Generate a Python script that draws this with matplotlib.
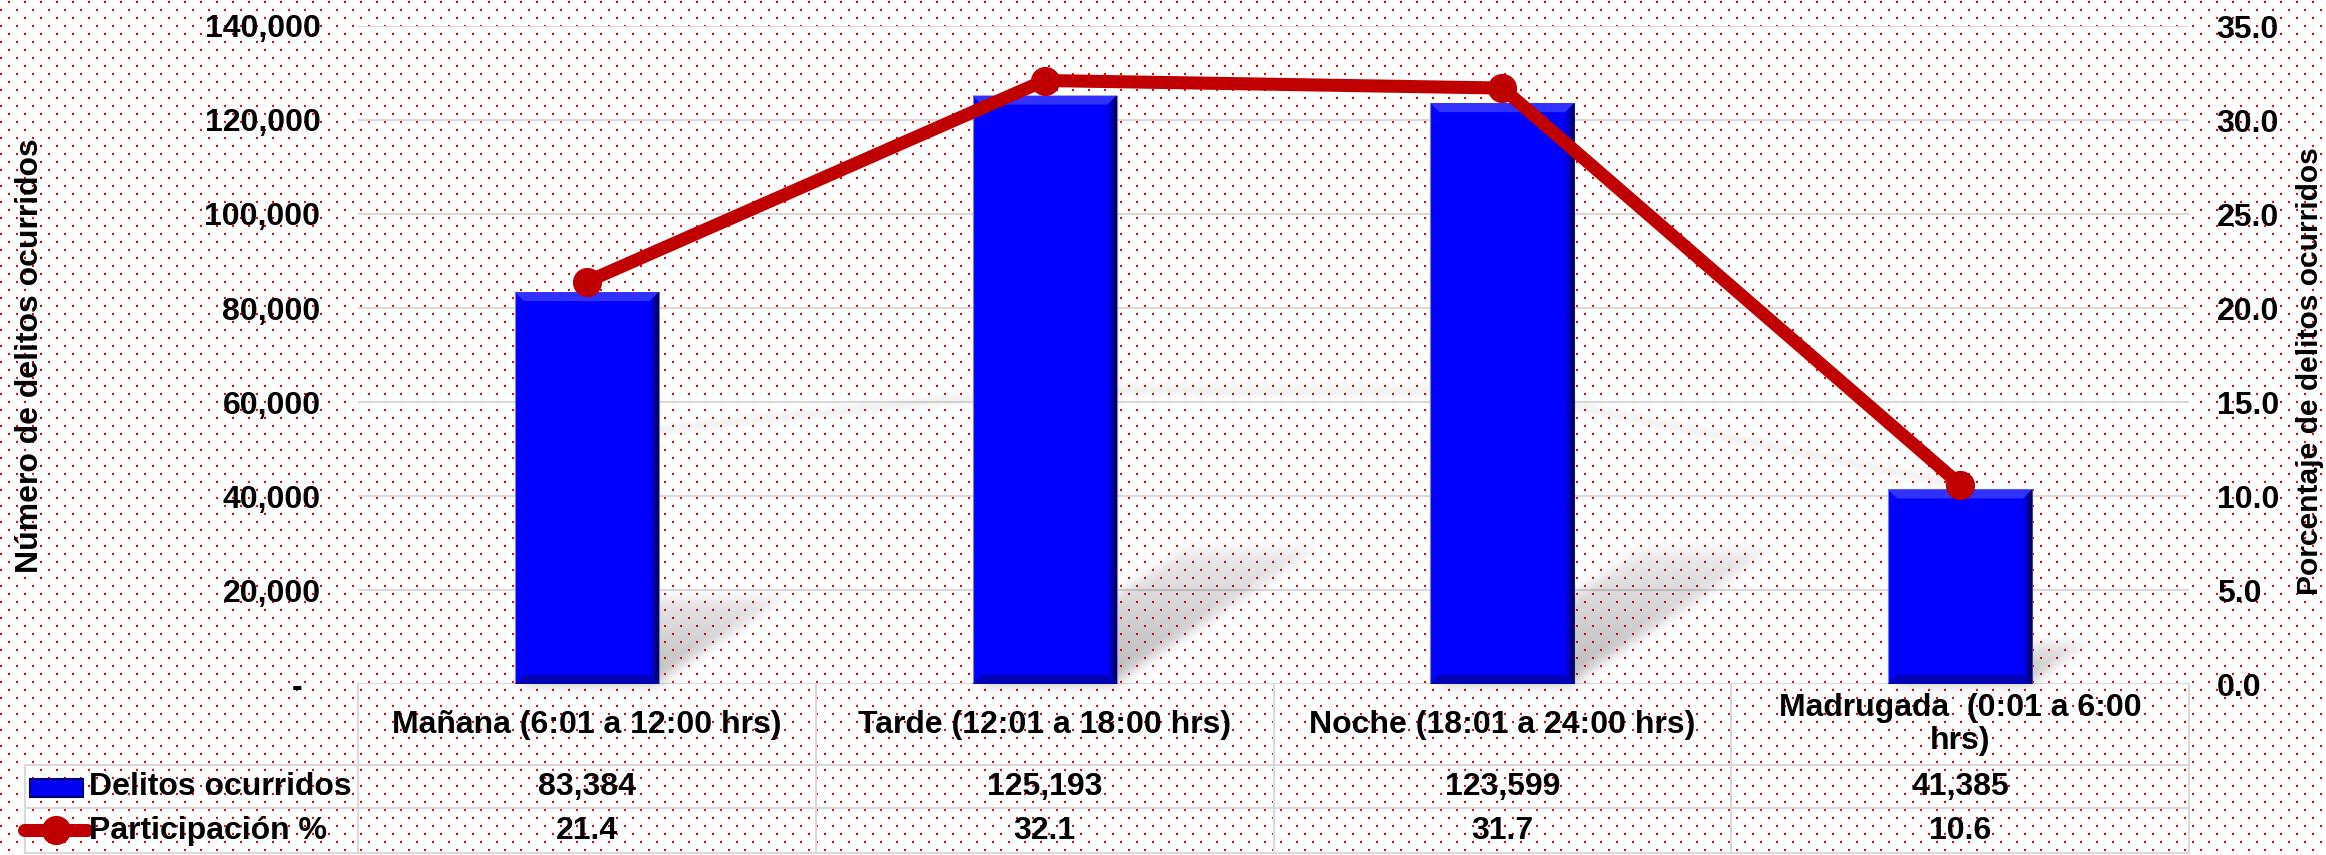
import numpy as np
import matplotlib
matplotlib.use("Agg")
import matplotlib.pyplot as plt
from matplotlib.patches import Polygon, Rectangle
from matplotlib.collections import PolyCollection
from matplotlib.lines import Line2D
from matplotlib.ticker import FuncFormatter, MultipleLocator
from matplotlib.transforms import blended_transform_factory

plt.rcParams['font.family'] = ['Liberation Sans', 'DejaVu Sans']
plt.rcParams['font.weight'] = 'bold'

# data
categorias = ["Mañana (6:01 a 12:00 hrs)", "Tarde (12:01 a 18:00 hrs)",
              "Noche (18:01 a 24:00 hrs)", "Madrugada  (0:01 a 6:00\nhrs)"]
delitos = [83384, 125193, 123599, 41385]
participacion = [21.4, 32.1, 31.7, 10.6]

W, H = 2326, 855
BLUE = '#0000FF'
RED = '#C00000'
GRID = '#D9D9D9'
FS = 23


class Blur:
    # gaussian blur used as agg filter for the soft shadows
    def __init__(self, sigma):
        self.sigma = sigma

    def __call__(self, im, dpi):
        pad = int(3 * self.sigma)
        src = np.pad(im, [(pad, pad), (pad, pad), (0, 0)])
        k = np.exp(-0.5 * (np.arange(-pad, pad + 1) / self.sigma) ** 2)
        k /= k.sum()
        tmp = np.zeros_like(src)
        for i, w in enumerate(k):
            tmp += w * np.roll(src, i - pad, axis=0)
        out = np.zeros_like(src)
        for i, w in enumerate(k):
            out += w * np.roll(tmp, i - pad, axis=1)
        return out, -pad, -pad


fig = plt.figure(figsize=(W / 100, H / 100), dpi=100, facecolor='white')

# dotted red background
bg = np.ones((H, W, 4))
for r in range(0, H, 8):
    off = 8 if (r // 8) % 2 == 0 else 0
    for d in (0, 1):
        bg[r + 1:r + 3, off + d::16, 1:3] = 0
fig.figimage(bg, xo=0, yo=0, zorder=-5)

# axes placement (pixels)
L, R, T, B = 358, 2189, 26, 684
ax = fig.add_axes([L / W, 1 - B / H, (R - L) / W, (B - T) / H])
ax.set_facecolor('none')
ax2 = ax.twinx()
ax2.set_facecolor('none')

x = np.arange(len(delitos))
ymax = 140000
ax.set_xlim(-0.5, 3.5)
ax.set_ylim(0, ymax)
ax2.set_ylim(0, 35)

for s in list(ax.spines.values()) + list(ax2.spines.values()):
    s.set_visible(False)

ax.yaxis.set_major_locator(MultipleLocator(20000))
ax2.yaxis.set_major_locator(MultipleLocator(5))
ax.yaxis.set_major_formatter(FuncFormatter(lambda v, p: '-  ' if v == 0 else f'{v:,.0f}'))
ax2.yaxis.set_major_formatter(FuncFormatter(lambda v, p: f'{v:.1f}'))
ax.tick_params(axis='y', length=0, pad=27, labelsize=FS)
ax2.tick_params(axis='y', length=0, pad=20, labelsize=FS)
ax.set_xticks([])
ax.grid(axis='y', color=GRID, lw=1.5, zorder=0)
ax.set_axisbelow(True)

px_x = (R - L) / 4.0          # pixels per category
px_v = (B - T) / ymax         # pixels per unit of delitos
bw = 0.315

# perspective shadows of the bars
polys, cols = [], []
nb = 8
for xi, v in zip(x, delitos):
    h = v * px_v
    dx = 0.355 * h / px_x
    dy = 0.232 * v
    x0, x1 = xi - bw / 2, xi + bw / 2
    for j in range(nb):
        f0, f1 = j / nb, (j + 1) / nb
        polys.append([(x0 + dx * f0, dy * f0), (x1 + dx * f0, dy * f0),
                      (x1 + dx * f1, dy * f1), (x0 + dx * f1, dy * f1)])
        cols.append((0, 0, 0, 0.27 - 0.2 * f0))
sh = PolyCollection(polys, facecolors=cols, edgecolors='none', zorder=1)
sh.set_agg_filter(Blur(5))
ax.add_collection(sh)

# faint shadow of the line
line_sh = Line2D(x, [8.1 + 0.235 * p for p in participacion], color='black', alpha=0.07,
                 lw=8, transform=ax2.transData, zorder=1.5, solid_capstyle='round')
line_sh.set_agg_filter(Blur(4))
ax.add_line(line_sh)

# bars with bevel
ax.bar(x, delitos, width=bw, color=BLUE, edgecolor='#8080C8', lw=0.8, zorder=2)
bx = 9 / px_x
by = 9 / px_v
for xi, v in zip(x, delitos):
    x0, x1 = xi - bw / 2, xi + bw / 2
    ax.add_patch(Polygon([(x0, v), (x1, v), (x1 - bx, v - by), (x0 + bx, v - by)],
                         closed=True, fc='#3030FF', ec='none', zorder=3))
    ax.add_patch(Polygon([(x0, 0), (x1, 0), (x1 - bx, by), (x0 + bx, by)],
                         closed=True, fc='#0000B4', ec='none', zorder=3))
    for f, c in [(1.0, '#0000D8'), (0.6, '#0000A0'), (0.3, '#000060')]:
        ax.add_patch(Polygon([(x1, v), (x1, 0), (x1 - bx * f, by * f), (x1 - bx * f, v - by * f)],
                             closed=True, fc=c, ec='none', zorder=3))

# line
ax2.plot(x, participacion, color=RED, lw=9.4, marker='o', ms=20, zorder=5,
         solid_capstyle='round')

# axis titles
fig.text(30 / W, 1 - 356 / H, 'Número de delitos ocurridos', rotation=90,
         ha='center', va='center', fontsize=FS, fontweight='bold')
fig.text(2310 / W, 1 - 371 / H, 'Porcentaje de delitos ocurridos', rotation=90,
         ha='center', va='center', fontsize=21.6, fontweight='bold')

# data table below the plot
tb = blended_transform_factory(ax.transData, fig.transFigure)
tf = fig.transFigure
y_hdr, y_r1, y_r2 = 765, 808, 853
LEG = 25


def fy(p):
    return 1 - p / H


for yy in (y_hdr, y_r1, y_r2):
    fig.add_artist(Line2D([LEG / W, R / W], [fy(yy), fy(yy)], color=GRID, lw=1.5,
                          transform=tf, zorder=1))
for xb in np.arange(-0.5, 4.0, 1.0):
    fig.add_artist(Line2D([xb, xb], [fy(B), fy(y_r2)], color=GRID, lw=1.5,
                          transform=tb, zorder=1))
fig.add_artist(Line2D([LEG / W, LEG / W], [fy(y_hdr), fy(y_r2)], color=GRID, lw=1.5,
                      transform=tf, zorder=1))

for xi, cat, d, p in zip(x, categorias, delitos, participacion):
    fig.text(xi, fy((B + y_hdr) / 2), cat, transform=tb, ha='center', va='center',
             multialignment='center', fontsize=FS, fontweight='bold', linespacing=1.15)
    fig.text(xi, fy((y_hdr + y_r1) / 2), f'{d:,}', transform=tb, ha='center',
             va='center', fontsize=FS, fontweight='bold')
    fig.text(xi, fy((y_r1 + y_r2) / 2), f'{p:.1f}', transform=tb, ha='center',
             va='center', fontsize=FS, fontweight='bold')

# legend keys inside the table
fig.add_artist(Rectangle((30 / W, fy(797)), 53 / W, 18 / H, transform=tf,
                         fc='#0000EE', ec='#00007A', lw=1.5))
fig.text(89 / W, fy((y_hdr + y_r1) / 2), 'Delitos ocurridos', ha='left', va='center',
         fontsize=FS, fontweight='bold')
fig.add_artist(Line2D([24 / W, 87 / W], [fy(830), fy(830)], transform=tf, color=RED,
                      lw=9.4, solid_capstyle='round'))
fig.add_artist(Line2D([55.5 / W], [fy(830)], transform=tf, color=RED, marker='o', ms=20))
fig.text(89 / W, fy((y_r1 + y_r2) / 2), 'Participación %', ha='left', va='center',
         fontsize=FS, fontweight='bold')

fig.savefig('out.png', dpi=100, facecolor='white')
